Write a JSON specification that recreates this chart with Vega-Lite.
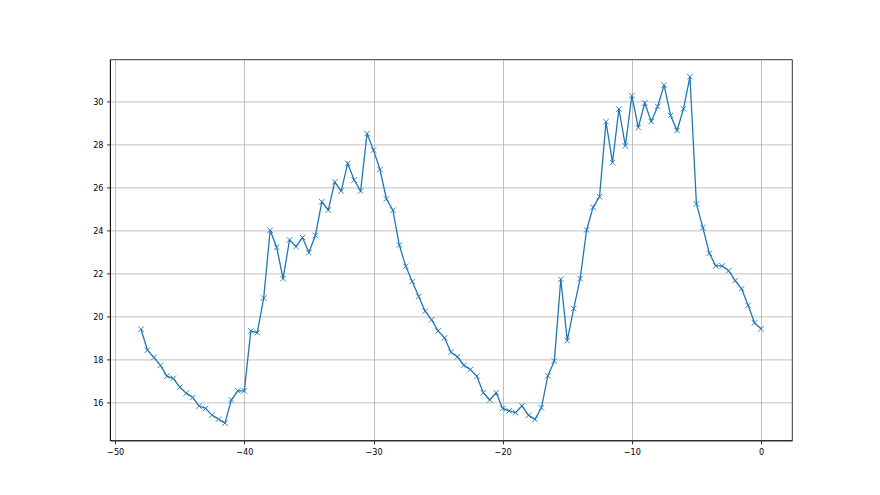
{
  "$schema": "https://vega.github.io/schema/vega-lite/v6.json",
  "width": 682,
  "height": 381,
  "autosize": {"type": "none"},
  "padding": {"left": 110, "top": 59.4, "right": 88, "bottom": 54.6},
  "background": "white",
  "config": {
    "view": {"stroke": "black", "strokeWidth": 0.8},
    "axis": {
      "labelFont": "DejaVu Sans Condensed, Liberation Sans Narrow, DejaVu Sans",
      "labelFontSize": 9,
      "labelColor": "black",
      "tickColor": "black",
      "tickSize": 3.5,
      "tickWidth": 0.8,
      "labelPadding": 3.5,
      "domainColor": "black",
      "domainWidth": 0.8,
      "gridColor": "#b0b0b0",
      "gridWidth": 0.8,
      "gridOpacity": 1,
      "title": null
    }
  },
  "data": {
    "values": [
      {"x": -48, "y": 19.40}, {"x": -47.5, "y": 18.43}, {"x": -47, "y": 18.09}, {"x": -46.5, "y": 17.72},
      {"x": -46, "y": 17.22}, {"x": -45.5, "y": 17.12}, {"x": -45, "y": 16.71}, {"x": -44.5, "y": 16.43},
      {"x": -44, "y": 16.23}, {"x": -43.5, "y": 15.83}, {"x": -43, "y": 15.72}, {"x": -42.5, "y": 15.41},
      {"x": -42, "y": 15.22}, {"x": -41.5, "y": 15.04}, {"x": -41, "y": 16.12}, {"x": -40.5, "y": 16.54},
      {"x": -40, "y": 16.54}, {"x": -39.5, "y": 19.32}, {"x": -39, "y": 19.24}, {"x": -38.5, "y": 20.85},
      {"x": -38, "y": 24.00}, {"x": -37.5, "y": 23.21}, {"x": -37, "y": 21.75}, {"x": -36.5, "y": 23.55},
      {"x": -36, "y": 23.24}, {"x": -35.5, "y": 23.66}, {"x": -35, "y": 22.96}, {"x": -34.5, "y": 23.75},
      {"x": -34, "y": 25.32}, {"x": -33.5, "y": 24.94}, {"x": -33, "y": 26.24}, {"x": -32.5, "y": 25.82},
      {"x": -32, "y": 27.10}, {"x": -31.5, "y": 26.33}, {"x": -31, "y": 25.82}, {"x": -30.5, "y": 28.49},
      {"x": -30, "y": 27.72}, {"x": -29.5, "y": 26.82}, {"x": -29, "y": 25.45}, {"x": -28.5, "y": 24.93},
      {"x": -28, "y": 23.31}, {"x": -27.5, "y": 22.32}, {"x": -27, "y": 21.62}, {"x": -26.5, "y": 20.92},
      {"x": -26, "y": 20.24}, {"x": -25.5, "y": 19.84}, {"x": -25, "y": 19.32}, {"x": -24.5, "y": 19.00},
      {"x": -24, "y": 18.33}, {"x": -23.5, "y": 18.12}, {"x": -23, "y": 17.72}, {"x": -22.5, "y": 17.53},
      {"x": -22, "y": 17.22}, {"x": -21.5, "y": 16.45}, {"x": -21, "y": 16.11}, {"x": -20.5, "y": 16.45},
      {"x": -20, "y": 15.72}, {"x": -19.5, "y": 15.61}, {"x": -19, "y": 15.53}, {"x": -18.5, "y": 15.84},
      {"x": -18, "y": 15.40}, {"x": -17.5, "y": 15.21}, {"x": -17, "y": 15.75}, {"x": -16.5, "y": 17.24},
      {"x": -16, "y": 17.92}, {"x": -15.5, "y": 21.72}, {"x": -15, "y": 18.87}, {"x": -14.5, "y": 20.36},
      {"x": -14, "y": 21.75}, {"x": -13.5, "y": 24.01}, {"x": -13, "y": 25.06}, {"x": -12.5, "y": 25.56},
      {"x": -12, "y": 29.04}, {"x": -11.5, "y": 27.14}, {"x": -11, "y": 29.63}, {"x": -10.5, "y": 27.92},
      {"x": -10, "y": 30.25}, {"x": -9.5, "y": 28.77}, {"x": -9, "y": 29.91}, {"x": -8.5, "y": 29.05},
      {"x": -8, "y": 29.75}, {"x": -7.5, "y": 30.74}, {"x": -7, "y": 29.33}, {"x": -6.5, "y": 28.63},
      {"x": -6, "y": 29.64}, {"x": -5.5, "y": 31.13}, {"x": -5, "y": 25.22}, {"x": -4.5, "y": 24.12},
      {"x": -4, "y": 22.93}, {"x": -3.5, "y": 22.34}, {"x": -3, "y": 22.34}, {"x": -2.5, "y": 22.12},
      {"x": -2, "y": 21.66}, {"x": -1.5, "y": 21.28}, {"x": -1, "y": 20.51}, {"x": -0.5, "y": 19.70},
      {"x": 0, "y": 19.42}
    ]
  },
  "encoding": {
    "x": {
      "field": "x", "type": "quantitative",
      "scale": {"domain": [-50.4, 2.4], "nice": false, "zero": false},
      "axis": {"values": [-50, -40, -30, -20, -10, 0], "grid": true}
    },
    "y": {
      "field": "y", "type": "quantitative",
      "scale": {"domain": [14.2355, 31.9345], "nice": false, "zero": false},
      "axis": {"values": [16, 18, 20, 22, 24, 26, 28, 30], "grid": true}
    }
  },
  "layer": [
    {"mark": {"type": "line", "color": "#1f77b4", "strokeWidth": 1.3, "clip": true}},
    {"mark": {"type": "point", "shape": "M-1,-1L1,1M-1,1L1,-1", "size": 30, "filled": false, "stroke": "#1f77b4", "strokeWidth": 0.9, "opacity": 1}}
  ]
}
